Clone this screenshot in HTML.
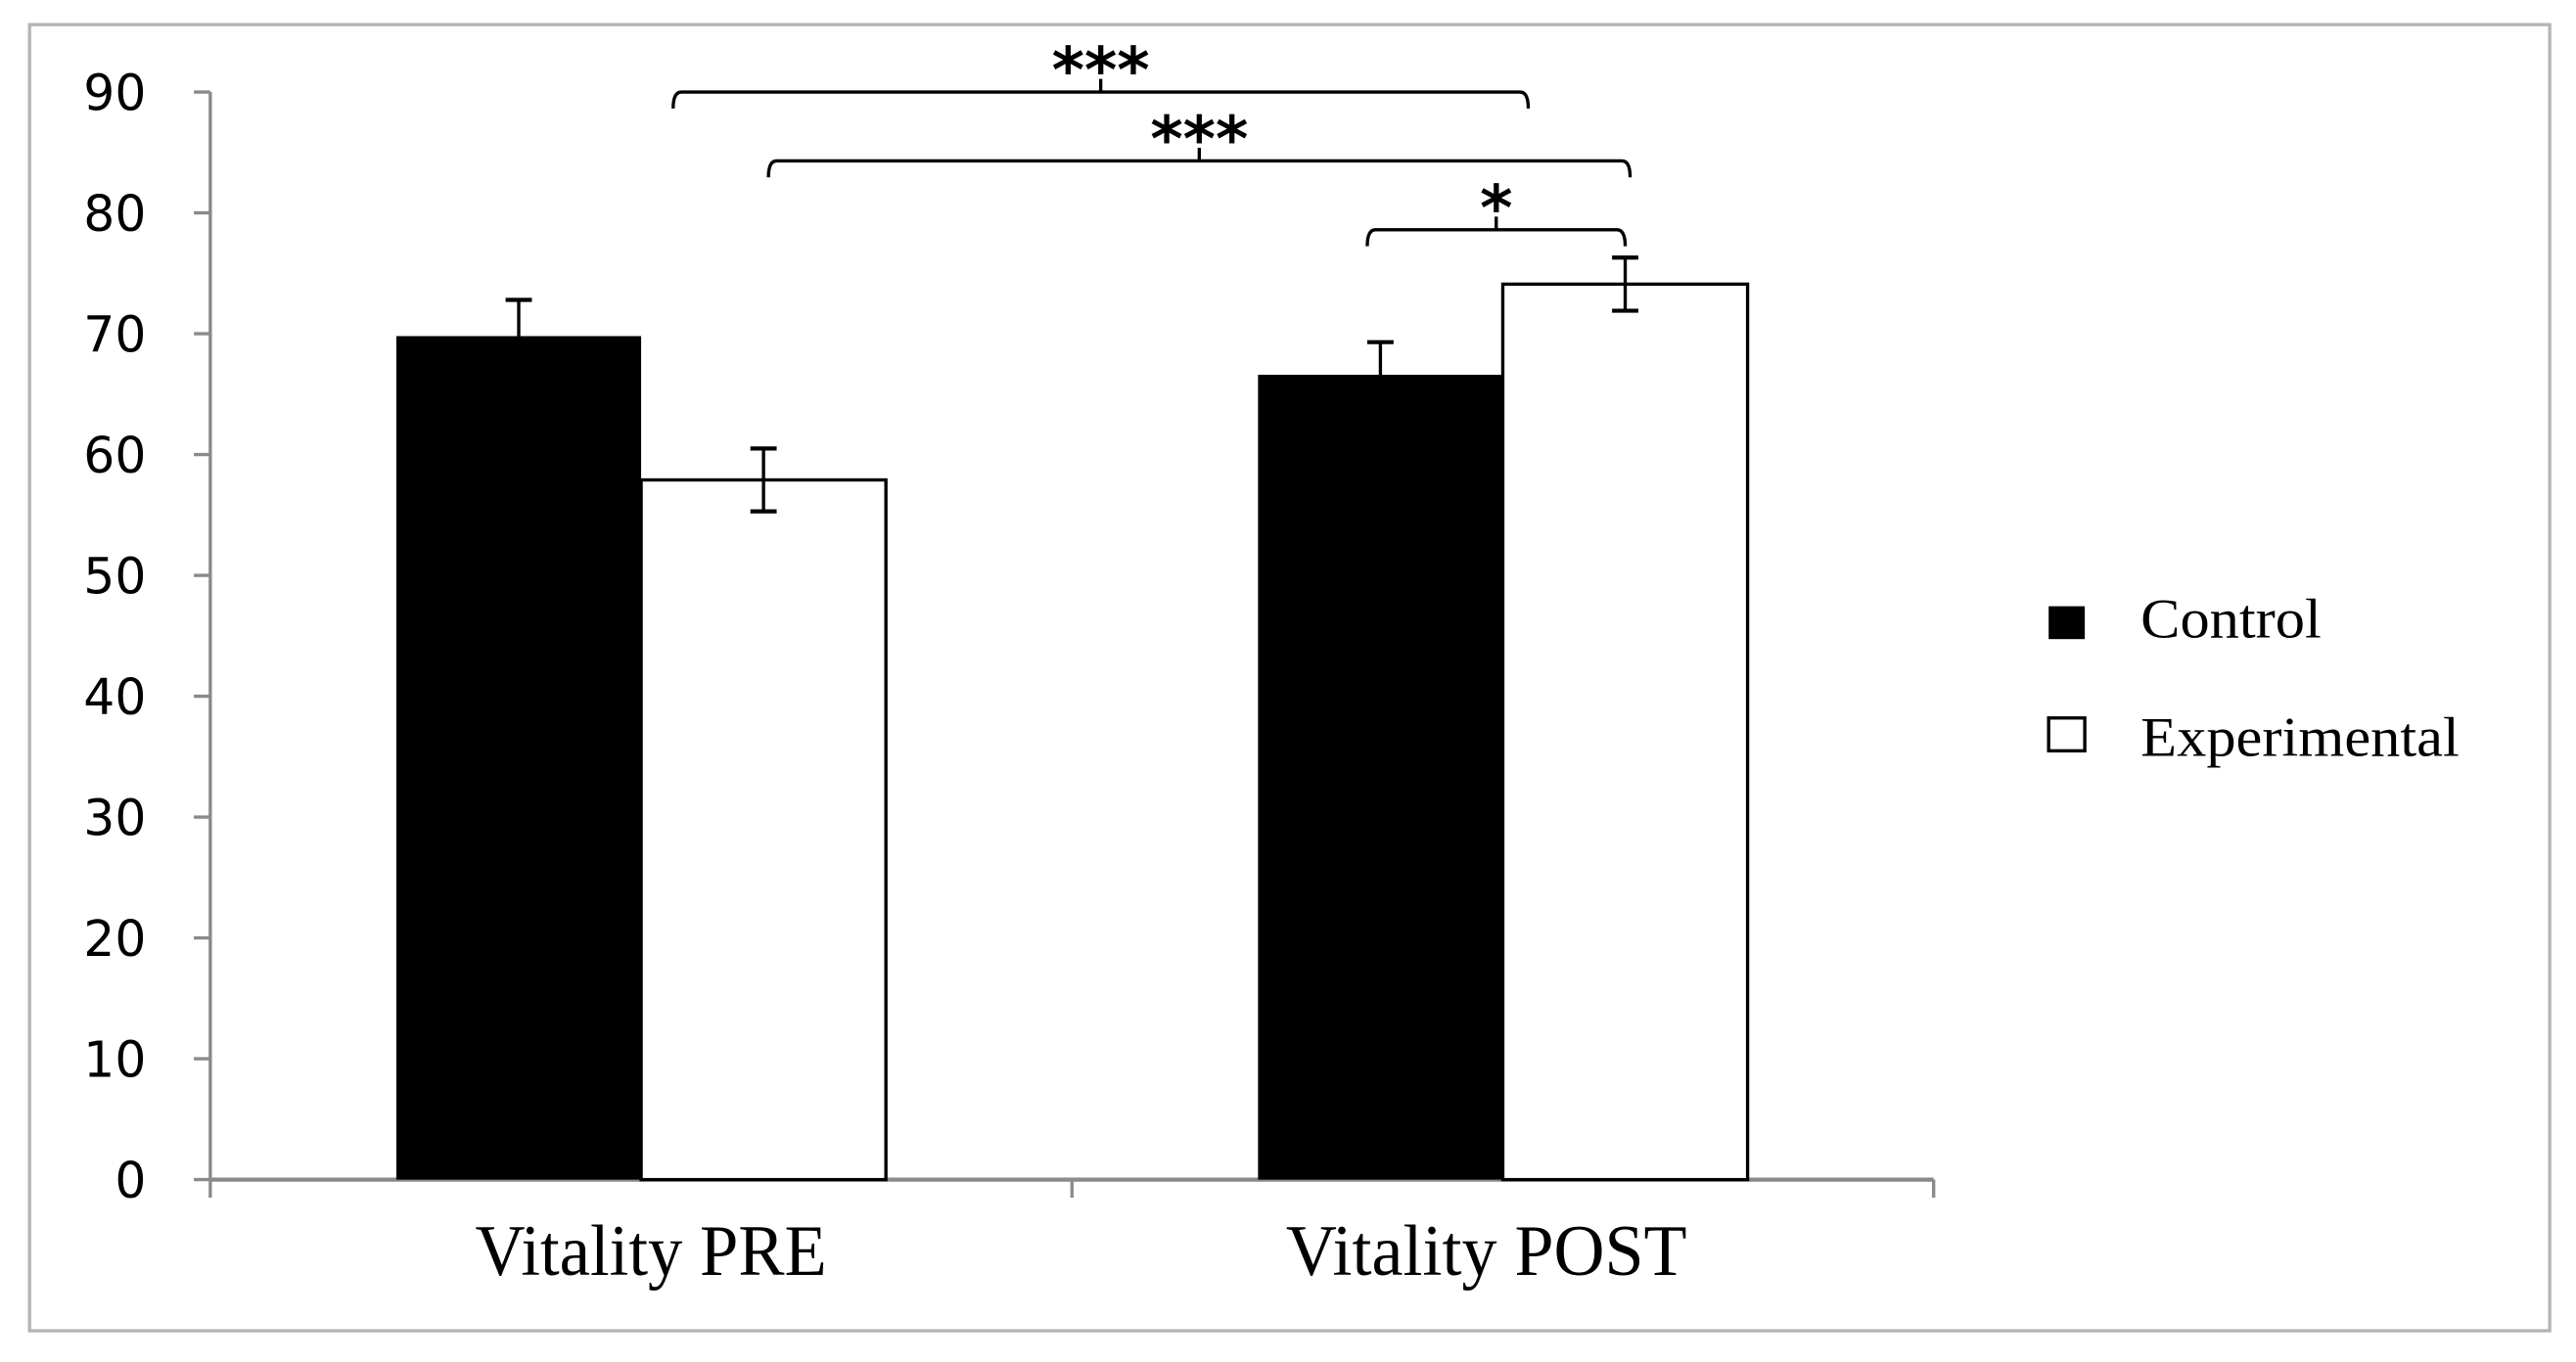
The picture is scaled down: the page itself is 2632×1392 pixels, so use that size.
<!DOCTYPE html>
<html><head><meta charset="utf-8"><style>
html,body{margin:0;padding:0;background:#fff;}
svg{display:block;}
</style></head><body>
<svg id="chart" width="2632" height="1392" viewBox="0 0 1568 829" preserveAspectRatio="none" xmlns="http://www.w3.org/2000/svg">
<rect x="18" y="15" width="1534" height="795" fill="#fff" stroke="#b5b5b5" stroke-width="2"/>
<g id="axes"></g>
<g id="bars"></g>
<g id="sig"></g>
<g>
<rect x="1247" y="369" width="22" height="20" fill="#000"/>
<text x="1303" y="388" font-family="Liberation Serif, serif" font-size="34" textLength="110" lengthAdjust="spacingAndGlyphs">Control</text>
<rect x="1247" y="437" width="22" height="20" fill="#fff" stroke="#000" stroke-width="2"/>
<text x="1303" y="460" font-family="Liberation Serif, serif" font-size="34" textLength="194" lengthAdjust="spacingAndGlyphs">Experimental</text>
</g>
</svg>
<script>
const categories = ["Vitality PRE", "Vitality POST"];
const controlValues = [69.8, 66.6];
const experimentalValues = [57.9, 74.1];
const controlErr = [3.0, 2.7];
const experimentalErr = [2.6, 2.2];
const yTicks = [0,10,20,30,40,50,60,70,80,90];
const sigLabels = ["***", "***", "*"];

const NS = "http://www.w3.org/2000/svg";
const x0 = 128, x1 = 1177, yBase = 718, yTop = 56;
const yScale = v => yBase - (v / 90) * (yBase - yTop);
const catW = (x1 - x0) / categories.length;
const barW = 149;
const catCenter = i => x0 + catW * (i + 0.5);
const barX = (i, s) => catCenter(i) - barW + s * barW;
function mk(tag, attrs, parent) {
  const e = document.createElementNS(NS, tag);
  for (const k in attrs) e.setAttribute(k, attrs[k]);
  parent.appendChild(e);
  return e;
}
const axes = document.getElementById('axes');
const bars = document.getElementById('bars');
const sig = document.getElementById('sig');

let yl = mk('line', {x1: x0, y1: yTop, x2: x0, y2: yBase, stroke: '#8a8a8a', 'stroke-width': 2}, axes);


yTicks.forEach(t => {
  const y = yScale(t);
  const tk = mk('line', {x1: x0 - 10, y1: y, x2: x0, y2: y, stroke: '#8a8a8a', 'stroke-width': 2}, axes);
  
  
  const lb = mk('text', {x: 89, y: y + 11, 'text-anchor': 'end', 'font-family': 'DejaVu Sans, sans-serif', 'font-size': 30, fill: '#000'}, axes);
  lb.textContent = t;
  
  
});
let xl = mk('line', {x1: x0, y1: yBase, x2: x1, y2: yBase, stroke: '#8a8a8a', 'stroke-width': 2.5}, axes);


for (let i = 0; i <= categories.length; i++) {
  const x = x0 + catW * i;
  const tk = mk('line', {x1: x, y1: yBase, x2: x, y2: yBase + 11, stroke: '#8a8a8a', 'stroke-width': 2}, axes);
  
  
}
const labW = [214, 244];
const labOff = [6, -10];
categories.forEach((c, i) => {
  const lb = mk('text', {x: catCenter(i) + labOff[i], y: 776, 'text-anchor': 'middle', 'font-family': 'Liberation Serif, serif', 'font-size': 44, textLength: labW[i], lengthAdjust: 'spacingAndGlyphs', fill: '#000'}, axes);
  lb.textContent = c;
  
  
});

function errBar(cx, v, e, down) {
  const top = yScale(v + e), bot = down ? yScale(v - e) : yScale(v);
  const g = mk('g', {}, bars);
  
  
  mk('line', {x1: cx, y1: top, x2: cx, y2: bot, stroke: '#000', 'stroke-width': 2}, g);
  mk('line', {x1: cx - 8, y1: top, x2: cx + 8, y2: top, stroke: '#000', 'stroke-width': 2.5}, g);
  if (down) mk('line', {x1: cx - 8, y1: bot, x2: cx + 8, y2: bot, stroke: '#000', 'stroke-width': 2.5}, g);
}
categories.forEach((c, i) => {
  const xc = barX(i, 0), xe = barX(i, 1);
  const bc = mk('rect', {x: xc, y: yScale(controlValues[i]), width: barW, height: yBase - yScale(controlValues[i]), fill: '#000'}, bars);
  
  
  const be = mk('rect', {x: xe, y: yScale(experimentalValues[i]), width: barW, height: yBase - yScale(experimentalValues[i]), fill: '#fff', stroke: '#000', 'stroke-width': 2}, bars);
  
  
  errBar(xc + barW / 2, controlValues[i], controlErr[i], false);
  errBar(xe + barW / 2, experimentalValues[i], experimentalErr[i], true);
});

const pairs = [[[0, 0], [1, 0]], [[0, 1], [1, 1]], [[1, 0], [1, 1]]];
const levels = [90, 84.3, 78.6];
const bracketShift = [[94, 90], [3, 3], [-8, 0]];
pairs.forEach((p, k) => {
  const xa = barX(p[0][0], p[0][1]) + barW / 2 + bracketShift[k][0];
  const xb = barX(p[1][0], p[1][1]) + barW / 2 + bracketShift[k][1];
  const y = yScale(levels[k]);
  const xm = (xa + xb) / 2;
  const g = mk('g', {}, sig);
  
  
  mk('path', {d: `M${xa},${y + 10} Q${xa},${y} ${xa + 5},${y} L${xb - 5},${y} Q${xb},${y} ${xb},${y + 10} M${xm},${y} L${xm},${y - 8}`, fill: 'none', stroke: '#000', 'stroke-width': 2}, g);
  const t = mk('text', {x: xm, y: y, 'text-anchor': 'middle', 'font-family': 'DejaVu Sans, sans-serif', 'font-weight': 'bold', 'font-size': 38, fill: '#000'}, g);
  t.textContent = sigLabels[k];
  
  
});
</script>
</body></html>
